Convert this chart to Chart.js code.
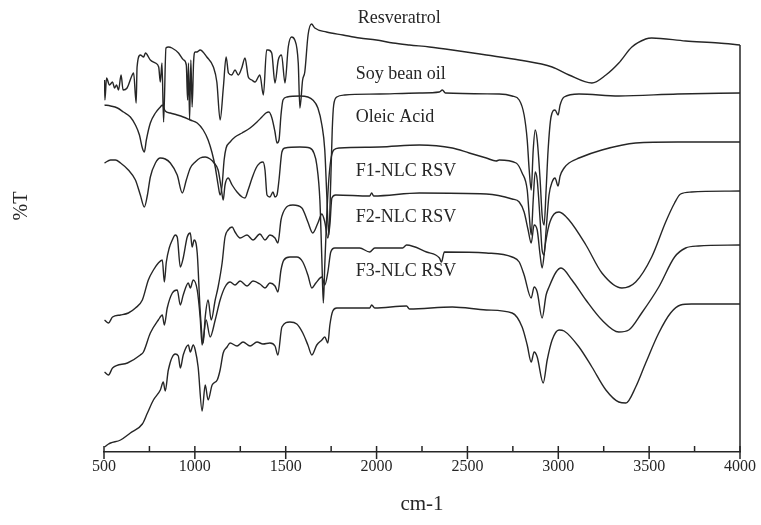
<!DOCTYPE html>
<html>
<head>
<meta charset="utf-8">
<script src="https://cdn.jsdelivr.net/npm/chart.js@4.4.1/dist/chart.umd.min.js"></script>
<style>
  html, body { margin:0; padding:0; background:#fff; }
  canvas { display:block; }
</style>
</head>
<body>
<canvas id="ftir" width="761" height="525"></canvas>
<script>
// FTIR spectra - stacked, offset %T (arbitrary units)

const seriesNames = ['Resveratrol','Soy bean oil','Oleic Acid','F1-NLC RSV','F2-NLC RSV','F3-NLC RSV'];

const resWn = [503,505,514,530,547,558,569,580,594,605,627,655,663,677,682,700,718,728,755,783,801,810,819,828,841,855,874,910,938,953,960,965,971,978,985,993,1002,1011,1029,1066,1102,1121,1139,1157,1172,1185,1203,1221,1239,1258,1276,1294,1313,1331,1358,1377,1395,1404,1423,1441,1459,1477,1496,1514,1532,1550,1569,1578,1593,1605,1623,1642,1660,1724,1815,1907,1999,2090,2181,2291,2417,2604,2785,2966,3059,3185,3262,3333,3405,3481,3514,3701,3882,4000];
const resT  = [372,352,374,367,370,364,367,362,377,362,364,377,379,349,385,397,395,399,392,389,385,370,389,330,404,405,404,399,392,387,352,389,332,392,345,390,400,400,402,395,385,370,332,365,395,379,377,382,377,384,394,375,372,370,377,357,402,402,399,369,392,397,369,405,415,412,389,344,372,380,417,428,424,420,417,414,412,409,407,405,402,397,392,385,377,369,377,389,405,413,414,411,409,407];

const soyWn = [503,536,574,607,645,673,695,711,722,733,755,783,810,821,837,865,903,936,975,1013,1046,1073,1095,1112,1128,1139,1150,1161,1172,1194,1221,1260,1304,1342,1369,1391,1408,1424,1441,1452,1463,1474,1485,1507,1578,1622,1649,1677,1699,1715,1726,1737,1748,1756,1764,1781,1825,2017,2236,2346,2362,2379,2675,2746,2785,2812,2829,2840,2851,2862,2873,2884,2900,2911,2922,2933,2944,2960,2982,2999,3010,3032,3114,3333,3657,4000];
const soyT  = [347,346,344,340,335,327,317,304,300,312,329,339,345,347,341,339,337,335,332,329,322,312,299,285,267,257,267,292,304,310,315,319,324,330,335,339,340,334,320,309,312,337,352,355,356,355,352,344,327,302,257,217,272,322,347,355,357,358,359,360,362,359,358,356,352,337,312,282,262,302,322,312,272,237,227,262,302,335,342,337,347,355,358,356,358,359];

const oleWn = [503,536,563,591,634,673,700,722,739,755,783,810,837,865,903,931,953,975,1002,1029,1057,1084,1106,1128,1145,1156,1166,1183,1205,1232,1260,1276,1293,1315,1337,1358,1375,1386,1397,1413,1430,1441,1452,1463,1479,1496,1578,1633,1655,1671,1688,1699,1707,1715,1726,1737,1748,1764,1797,2017,2236,2417,2510,2604,2658,2675,2768,2801,2829,2840,2851,2862,2873,2884,2900,2911,2922,2933,2949,2966,2982,2999,3010,3032,3059,3114,3240,3426,3657,4000];
const oleT  = [289,292,292,289,282,272,257,245,257,275,289,294,293,289,277,259,272,284,290,294,295,293,289,282,264,252,267,274,267,260,255,254,262,274,284,289,290,282,257,255,260,255,257,272,300,304,305,304,299,287,252,192,149,187,237,272,292,302,304,305,307,304,299,294,291,292,289,279,262,237,217,252,280,272,232,202,197,222,257,270,274,266,276,284,289,294,302,309,310,310];

const f1Wn = [503,525,547,591,634,673,711,744,772,799,821,832,843,859,876,892,903,920,936,958,975,985,996,1013,1029,1046,1057,1073,1090,1112,1128,1150,1166,1183,1205,1221,1249,1287,1320,1358,1386,1413,1441,1457,1474,1485,1512,1540,1589,1622,1649,1677,1699,1715,1732,1743,1754,1775,1962,1973,1984,2236,2604,2746,2785,2812,2834,2851,2867,2884,2900,2911,2928,2949,2977,3004,3059,3152,3240,3350,3426,3514,3591,3640,3673,3733,4000];
const f1T  = [132,129,135,137,139,144,152,172,182,189,192,170,190,204,212,217,215,185,194,215,219,205,212,199,142,109,135,152,132,152,165,189,215,222,225,220,214,217,212,218,212,217,214,209,232,239,246,247,244,230,219,229,238,230,214,227,254,257,256,259,256,259,258,253,250,240,222,209,227,222,197,184,207,227,238,240,232,207,179,164,170,195,230,249,258,260,261];

const f2Wn = [503,525,547,629,700,717,755,799,821,832,848,876,903,920,936,964,975,991,1013,1029,1040,1062,1084,1112,1139,1166,1194,1221,1249,1287,1320,1358,1386,1413,1441,1457,1474,1490,1523,1561,1594,1622,1644,1666,1699,1715,1732,1748,1770,1907,1962,1990,2143,2165,2275,2346,2357,2373,2604,2746,2785,2812,2851,2867,2884,2911,2933,2949,2988,3015,3075,3152,3240,3333,3388,3459,3553,3640,3701,3771,4000];
const f2T  = [80,77,84,89,97,100,119,132,137,127,144,159,162,147,157,169,164,172,162,135,107,132,115,132,152,165,170,167,171,166,171,168,164,169,166,160,182,192,195,195,190,177,164,169,175,167,180,200,204,204,200,204,204,207,200,194,190,200,199,195,190,177,154,165,160,134,157,165,180,184,172,152,132,120,122,139,165,195,204,206,207];

const f3Wn = [503,525,536,591,645,711,739,772,810,826,837,854,892,909,920,936,964,975,991,1002,1018,1040,1057,1073,1095,1123,1139,1156,1177,1194,1232,1265,1304,1342,1375,1413,1441,1457,1479,1523,1561,1594,1622,1644,1671,1699,1715,1732,1743,1759,1781,1962,1973,1990,2165,2181,2417,2604,2746,2801,2829,2851,2867,2884,2917,2939,2966,3004,3032,3114,3185,3262,3333,3372,3426,3481,3553,3618,3673,3733,4000];
const f3T  = [5,8,9,12,19,28,39,52,62,70,61,82,98,96,84,97,107,100,107,102,85,41,67,52,67,72,82,99,105,109,106,110,106,110,108,109,106,97,125,130,128,119,107,97,107,112,115,109,127,141,144,144,147,144,146,143,145,142,139,125,107,90,100,95,69,92,112,122,121,105,85,62,50,49,65,89,119,139,147,148,148];

const wnSets = [resWn, soyWn, oleWn, f1Wn, f2Wn, f3Wn];
const tSets  = [resT, soyT, oleT, f1T, f2T, f3T];

// where each name sits (wavenumber, %T units)
const labelAt = [[1896,434],[1885,378],[1885,335],[1885,281],[1885,235],[1885,181]];

const SERIF = "'Liberation Serif', 'Times New Roman', serif";
const INK = '#262626';

const frame = {
  id: 'frame',
  afterDraw(chart){
    const {ctx, scales:{x, y}} = chart;
    const y0 = y.getPixelForValue(0);
    ctx.save();
    ctx.strokeStyle = INK;
    ctx.lineWidth = 1.5;
    x.ticks.forEach(t => {
      const px = x.getPixelForValue(t.value);
      const major = t.value % 500 === 0;
      ctx.beginPath();
      ctx.moveTo(px, major ? y0 + 7 : y0);
      ctx.lineTo(px, y0 - 6);
      ctx.stroke();
    });
    // right edge of the frame, up to the top trace
    const xr = x.getPixelForValue(4000);
    ctx.beginPath();
    ctx.moveTo(xr, y.getPixelForValue(resT[resT.length-1]));
    ctx.lineTo(xr, y0);
    ctx.stroke();

    ctx.fillStyle = INK;
    ctx.font = '18px ' + SERIF;
    ctx.textBaseline = 'middle';
    ctx.textAlign = 'left';
    seriesNames.forEach((n,i) => {
      ctx.fillText(n, x.getPixelForValue(labelAt[i][0]), y.getPixelForValue(labelAt[i][1]));
    });

    ctx.font = '20px ' + SERIF;
    ctx.translate(22, 206);
    ctx.rotate(-Math.PI/2);
    ctx.textAlign = 'center';
    ctx.fillText('%T', 0, 0);
    ctx.restore();
  }
};

new Chart(document.getElementById('ftir'), {
  type: 'line',
  data: {
    datasets: seriesNames.map((n,i) => ({
      label: n,
      data: wnSets[i].map((w,k) => ({x:w, y:tSets[i][k]})),
      borderColor: INK,
      borderWidth: 1.4,
      pointRadius: 0,
      fill: false,
      cubicInterpolationMode: 'monotone'
    }))
  },
  options: {
    responsive: false,
    animation: false,
    layout: { padding: { left:104, right:20, top:10, bottom:0 } },
    plugins: { legend:{display:false}, tooltip:{enabled:false} },
    scales: {
      x: {
        type: 'linear', min: 500, max: 4000,
        afterFit: s => { s.height = 73; },
        grid: { display:false, drawTicks:false },
        border: { display:true, color:INK, width:1.5 },
        ticks: {
          stepSize: 250, autoSkip:false, maxRotation:0, padding:5,
          color: INK, font: { family:SERIF, size:16 },
          callback: v => v % 500 === 0 ? String(v) : ''
        },
        title: { display:true, text:'cm-1', color:INK, font:{ family:SERIF, size:21 }, padding:{ top:0, bottom:8 } }
      },
      y: { display:false, min:0, max:442 }
    }
  },
  plugins: [frame]
});
</script>
</body>
</html>
